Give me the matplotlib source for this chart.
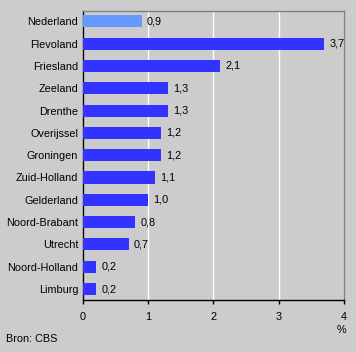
import matplotlib
matplotlib.use("Agg")
import matplotlib.pyplot as plt

provinces = ["Nederland", "Flevoland", "Friesland", "Zeeland", "Drenthe", "Overijssel",
             "Groningen", "Zuid-Holland", "Gelderland", "Noord-Brabant", "Utrecht",
             "Noord-Holland", "Limburg"]
values = [0.9, 3.7, 2.1, 1.3, 1.3, 1.2, 1.2, 1.1, 1.0, 0.8, 0.7, 0.2, 0.2]
xticks = [0, 1, 2, 3, 4]

plt.rcParams['font.family'] = ['Liberation Sans', 'DejaVu Sans']
bg = "#cccccc"
fig = plt.figure(figsize=(3.56, 3.52), dpi=100, facecolor=bg)
ax = fig.add_axes([83/356, 1-300/352, (344-83)/356, (300-11)/352])
ax.set_facecolor(bg)

colors = ["#6699ff"] + ["#3333ff"] * (len(values) - 1)
ypos = list(range(len(provinces)))
ax.barh(ypos, values, height=0.54, color=colors, zorder=3)
for y, v in zip(ypos, values):
    ax.text(v + 0.08, y, f"{v:.1f}".replace(".", ","), va="center", ha="left",
            fontsize=7.8, color="#000000", zorder=4)

ax.set_xlim(0, 4)
ax.set_ylim(12.49, -0.46)
ax.set_yticks(ypos)
ax.set_yticklabels(provinces, fontsize=7.8)
ax.tick_params(axis="y", length=0, pad=3.5)
ax.set_xticks(xticks)
ax.set_xticklabels([str(t) for t in xticks], fontsize=7.8)
ax.tick_params(axis="x", length=3, width=1, pad=6, direction="out")
ax.xaxis.grid(True, color="white", linewidth=1, zorder=1)
ax.set_axisbelow(True)
for s in ["left", "bottom"]:
    ax.spines[s].set_color("black")
    ax.spines[s].set_linewidth(1)
for s in ["top", "right"]:
    ax.spines[s].set_color("#808080")
    ax.spines[s].set_linewidth(1)

fig.text(341/356, 1-330/352, "%", fontsize=7.8, ha="center", va="center")
fig.text(6/356, 1-339/352, "Bron: CBS", fontsize=7.8, ha="left", va="center")

fig.savefig("out.png", dpi=100, facecolor=bg)
